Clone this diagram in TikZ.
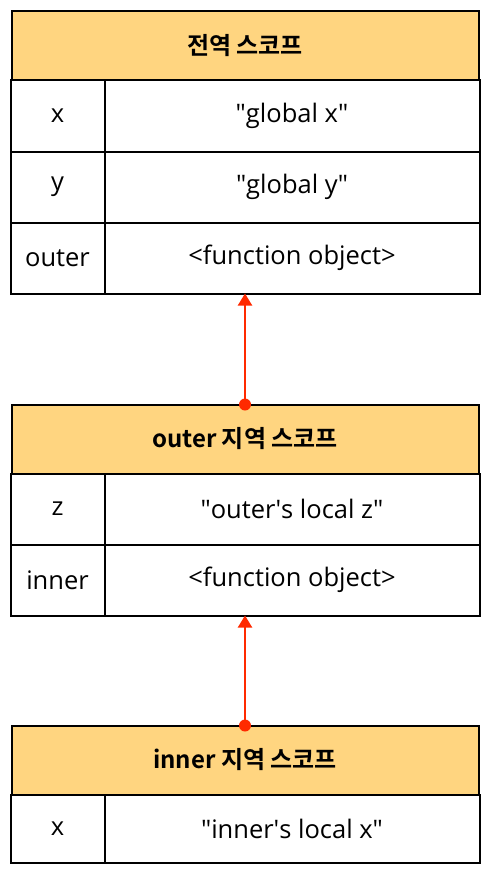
\documentclass[tikz,border=0pt]{standalone}
\usepackage{fontspec}
\setmainfont{Open Sans}
\newfontfamily\korfont{Noto Sans CJK KR Bold}
\usetikzlibrary{positioning,arrows.meta}
\definecolor{scopehead}{HTML}{FFD580}
\definecolor{linkred}{HTML}{FF2A00}
\tikzset{
  head/.style={draw, line width=2pt, outer sep=0pt, fill=scopehead, minimum width=467pt, minimum height=69pt, inner sep=0pt, font=\fontsize{24}{28}\korfont},
  keycell/.style={draw, line width=2pt, outer sep=0pt, minimum width=94pt, minimum height=71pt, inner sep=0pt, font=\fontsize{25.5}{30}\selectfont},
  valcell/.style={keycell, minimum width=375pt},
  link/.style={draw=linkred, line width=2pt, -{Triangle[length=12pt,width=14pt]}},
}

\begin{document}
\begin{tikzpicture}[x=1pt, y=-1pt]
    \useasboundingbox (0,0) rectangle (487,872);
    % global scope
    \node[head] (gh) at (245,46) {전역 스코프};
    \node[keycell, below=0pt of gh.south west, anchor=north west, xshift=-1pt] (gx) {x};
    \node[valcell, right=0pt of gx] (gxv) {\textquotedbl global x\textquotedbl};
    \node[keycell, below=0pt of gx] (gy) {y};
    \node[valcell, right=0pt of gy] (gyv) {\textquotedbl global y\textquotedbl};
    \node[keycell, below=0pt of gy] (go) {outer};
    \node[valcell, right=0pt of go] (gov) {<function object>};
    % outer scope
    \node[head] (oh) at (245,439) {outer 지역 스코프};
    \node[keycell, below=0pt of oh.south west, anchor=north west, xshift=-1pt] (oz) {z};
    \node[valcell, right=0pt of oz] (ozv) {\textquotedbl outer\textquotesingle s local z\textquotedbl};
    \node[keycell, below=0pt of oz] (oi) {inner};
    \node[valcell, right=0pt of oi] (oiv) {<function object>};
    % inner scope
    \node[head] (ih) at (245,760) {inner 지역 스코프};
    \node[keycell, below=0pt of ih.south west, anchor=north west, xshift=-1pt, minimum height=68pt] (ix) {x};
    \node[valcell, right=0pt of ix, minimum height=68pt] (ixv) {\textquotedbl inner\textquotesingle s local x\textquotedbl};
    % links
    \draw[link] (oh.north) -- (oh.north |- gov.south);
    \fill[linkred] (oh.north) circle (6pt);
    \draw[link] (ih.north) -- (ih.north |- oiv.south);
    \fill[linkred] (ih.north) circle (6pt);
\end{tikzpicture}
\end{document}
